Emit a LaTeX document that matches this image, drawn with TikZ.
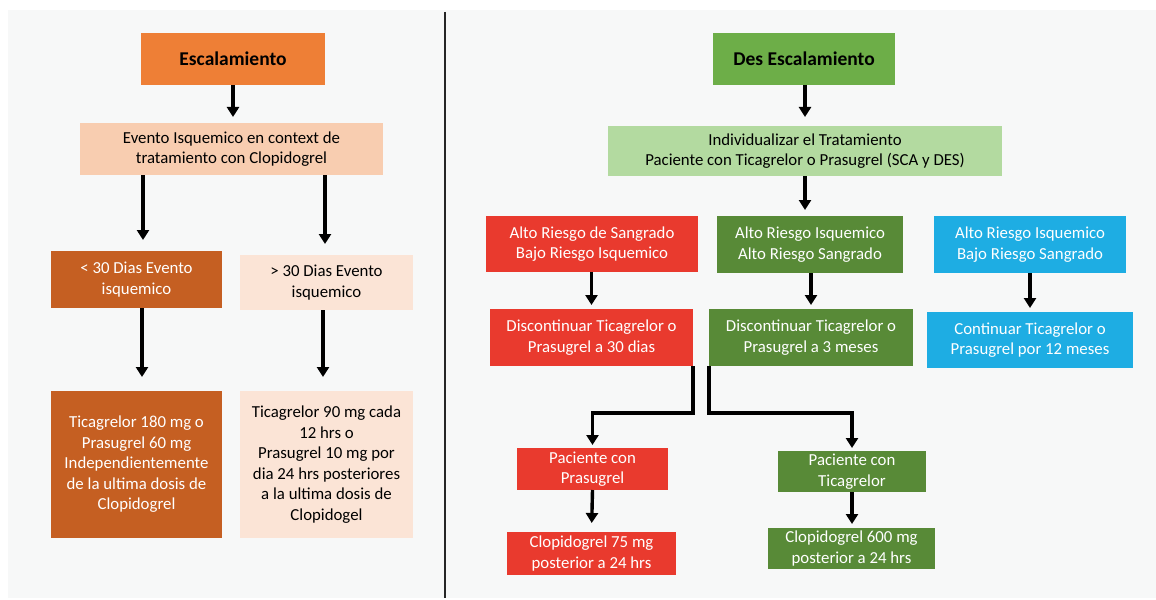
\documentclass[tikz,border=0pt]{standalone}
\usepackage{fontspec}
\setmainfont{Carlito}
\usetikzlibrary{arrows.meta}
\definecolor{panel}{HTML}{F7F8F8}
\definecolor{escorange}{HTML}{EE7F36}
\definecolor{peach}{HTML}{F8CDB0}
\definecolor{rust}{HTML}{C55F22}
\definecolor{paleorange}{HTML}{FBE4D6}
\definecolor{leaf}{HTML}{6DAE48}
\definecolor{mint}{HTML}{B3DAA0}
\definecolor{olive}{HTML}{588A37}
\definecolor{alarm}{HTML}{E93A2E}
\definecolor{sky}{HTML}{1EADE3}
\begin{document}
\begin{tikzpicture}[x=1pt,y=-1pt,>={Triangle[length=10pt,width=12pt]},
  box/.style={inner sep=2pt,outer sep=0pt,align=center,font=\fontsize{16.8}{20.5}\selectfont},
  title/.style={box,font=\fontsize{19.5}{22}\selectfont\bfseries},
  light/.style={text=black},
  dark/.style={text=white},
  flow/.style={->,line width=3.4pt,shorten >=6pt}]
% fondo y division
\fill[white] (0,0) rectangle (1156,598);
\fill[panel] (8,10) rectangle (1156,598);
\draw[line width=2.2pt,black!85] (445,12) -- (445,598);

% Escalamiento
\node[title,light,fill=escorange,minimum width=184pt,minimum height=52pt] (esc) at (233,59) {Escalamiento};
\node[box,light,fill=peach,minimum width=303pt,minimum height=52pt] (evento) at (231.5,149) {Evento Isquemico en context de\\tratamiento con Clopidogrel};
\node[box,dark,fill=rust,minimum width=171pt,minimum height=57pt] (menos) at (136.5,279.5) {< 30 Dias Evento\\isquemico};
\node[box,light,fill=paleorange,minimum width=173pt,minimum height=55pt] (mas) at (326.5,282.5) {> 30 Dias Evento\\isquemico};
\node[box,dark,fill=rust,minimum width=171pt,minimum height=147pt] (carga) at (136.5,464.5) {Ticagrelor 180 mg o\\Prasugrel 60 mg\\Independientemente\\de la ultima dosis de\\Clopidogrel};
\node[box,light,fill=paleorange,minimum width=173pt,minimum height=147pt] (mant) at (326.5,464.5) {Ticagrelor 90 mg cada\\12 hrs o\\Prasugrel 10 mg por\\dia 24 hrs posteriores\\a la ultima dosis de\\Clopidogel};

\draw[flow] (esc.south) -- (esc.south |- evento.north);
\draw[flow,shorten >=11pt] (evento.south -| 143,0) -- (143,0 |- menos.north);
\draw[flow,shorten >=11pt] (evento.south -| 325,0) -- (325,0 |- mas.north);
\draw[flow,shorten >=14pt] (menos.south -| 142,0) -- (142,0 |- carga.north);
\draw[flow,shorten >=14pt] (mas.south -| 323,0) -- (323,0 |- mant.north);

% Des Escalamiento
\node[title,light,fill=leaf,minimum width=182pt,minimum height=52pt] (desesc) at (804,59) {Des Escalamiento};
\node[box,light,fill=mint,minimum width=394pt,minimum height=50pt] (indiv) at (805,151) {Individualizar el Tratamiento\\Paciente con Ticagrelor o Prasugrel (SCA y DES)};
\node[box,dark,fill=alarm,minimum width=212pt,minimum height=56pt] (sangrado) at (592,244) {Alto Riesgo de Sangrado\\Bajo Riesgo Isquemico};
\node[box,dark,fill=olive,minimum width=186pt,minimum height=57pt] (ambos) at (810,244.5) {Alto Riesgo Isquemico\\Alto Riesgo Sangrado};
\node[box,dark,fill=sky,minimum width=192pt,minimum height=57pt] (isquemico) at (1030,244.5) {Alto Riesgo Isquemico\\Bajo Riesgo Sangrado};
\node[box,dark,fill=alarm,minimum width=203pt,minimum height=57pt] (disc30) at (591.5,337.5) {Discontinuar Ticagrelor o\\Prasugrel a 30 dias};
\node[box,dark,fill=olive,minimum width=204pt,minimum height=57pt] (disc3) at (811,337.5) {Discontinuar Ticagrelor o\\Prasugrel a 3 meses};
\node[box,dark,fill=sky,minimum width=206pt,minimum height=56pt] (cont) at (1030,340) {Continuar Ticagrelor o\\Prasugrel por 12 meses};
\node[box,dark,fill=alarm,minimum width=151pt,minimum height=42pt] (conpras) at (592.5,469) {Paciente con\\Prasugrel};
\node[box,dark,fill=olive,minimum width=148pt,minimum height=41pt] (contica) at (852,471.5) {Paciente con\\Ticagrelor};
\node[box,dark,fill=alarm,minimum width=169pt,minimum height=43pt] (clop75) at (591.5,553.5) {Clopidogrel 75 mg\\posterior a 24 hrs};
\node[box,dark,fill=olive,minimum width=167pt,minimum height=41pt] (clop600) at (851.5,548.5) {Clopidogrel 600 mg\\posterior a 24 hrs};

\draw[flow,shorten >=9pt] (desesc.south -| indiv) -- (indiv.north);
\draw[flow] (indiv.south) -- (indiv.south |- ambos.north);
\foreach \a/\b in {sangrado/disc30,ambos/disc3,isquemico/cont}{
  \draw[flow,shorten >=4pt] (\a.south -| \b) -- (\b.north);
}
\draw[flow,shorten >=3pt] (disc30.south east) -- ++(0,47) -| (conpras.north);
\draw[flow,shorten >=3pt] (disc3.south west) -- ++(0,47) -| (contica.north);
\draw[flow,shorten >=9pt] (conpras.south) -- (clop75.north);
\draw[flow,shorten >=4pt] (contica.south) -- (contica.south |- clop600.north);
\end{tikzpicture}
\end{document}
